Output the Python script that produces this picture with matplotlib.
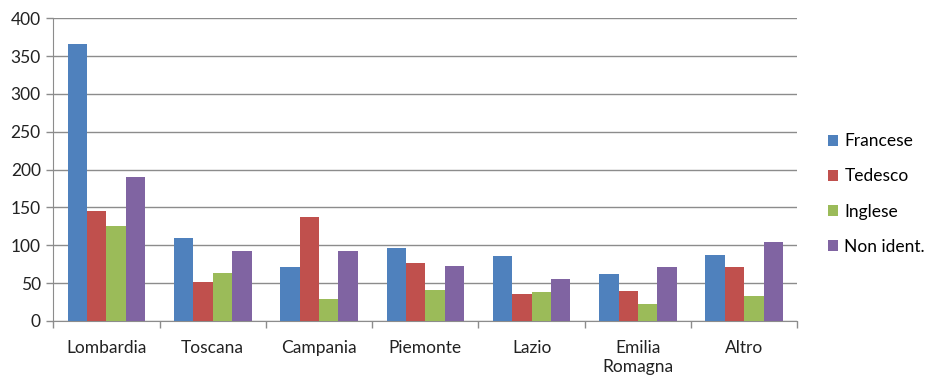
import matplotlib
matplotlib.use("Agg")
import matplotlib.pyplot as plt
import numpy as np

categories = ["Lombardia", "Toscana", "Campania", "Piemonte", "Lazio", "Emilia\nRomagna", "Altro"]
series_names = ["Francese", "Tedesco", "Inglese", "Non ident."]
francese = [366, 110, 72, 97, 86, 62, 87]
tedesco = [145, 51, 138, 77, 36, 40, 72]
inglese = [126, 63, 29, 41, 38, 22, 33]
non_ident = [190, 92, 92, 73, 55, 72, 104]
colors = ["#4F81BD", "#C0504D", "#9BBB59", "#8064A2"]
yticks = [0, 50, 100, 150, 200, 250, 300, 350, 400]

plt.rcParams['font.family'] = ['Lato', 'DejaVu Sans']
FS = 12.5

fig = plt.figure(figsize=(9.25, 3.78), dpi=100)
ax = fig.add_axes([0.0576, 0.1508, 0.8044, 0.8008])

data = [francese, tedesco, inglese, non_ident]
x = np.arange(len(categories))
bw = 0.1825
for i, (vals, name, c) in enumerate(zip(data, series_names, colors)):
    ax.bar(x + (i - 1.5) * bw, vals, width=bw, color=c, label=name, zorder=3)

ax.set_xlim(-0.5, len(categories) - 0.5)
ax.set_ylim(0, 400)
ax.set_yticks(yticks)
ax.set_yticklabels([str(v) for v in yticks], fontsize=FS, color="#222222")
ax.yaxis.grid(True, color="#8c8c8c", linewidth=1.0, zorder=0)
ax.set_axisbelow(True)

ax.set_xticks(x)
ax.set_xticklabels(categories, fontsize=FS, color="#222222", linespacing=1.2)
ax.tick_params(axis='x', length=0, pad=14)
ax.set_xticks(np.arange(-0.5, len(categories)), minor=True)
ax.tick_params(axis='x', which='minor', length=5, color="#8c8c8c", width=1)
ax.tick_params(axis='y', length=5, color="#8c8c8c", width=1, pad=4)

for s in ['top', 'right']:
    ax.spines[s].set_visible(False)
ax.spines['left'].set_color("#8c8c8c")
ax.spines['bottom'].set_color("#8c8c8c")

handles, labels = ax.get_legend_handles_labels()
fig.legend(handles, labels, loc='center left', bbox_to_anchor=(828 / 925, 1 - 194 / 378),
           frameon=False, fontsize=FS, handlelength=0.6, handleheight=0.6,
           handletextpad=0.35, labelspacing=1.1, borderpad=0, borderaxespad=0)

fig.savefig("out.png", dpi=100)
